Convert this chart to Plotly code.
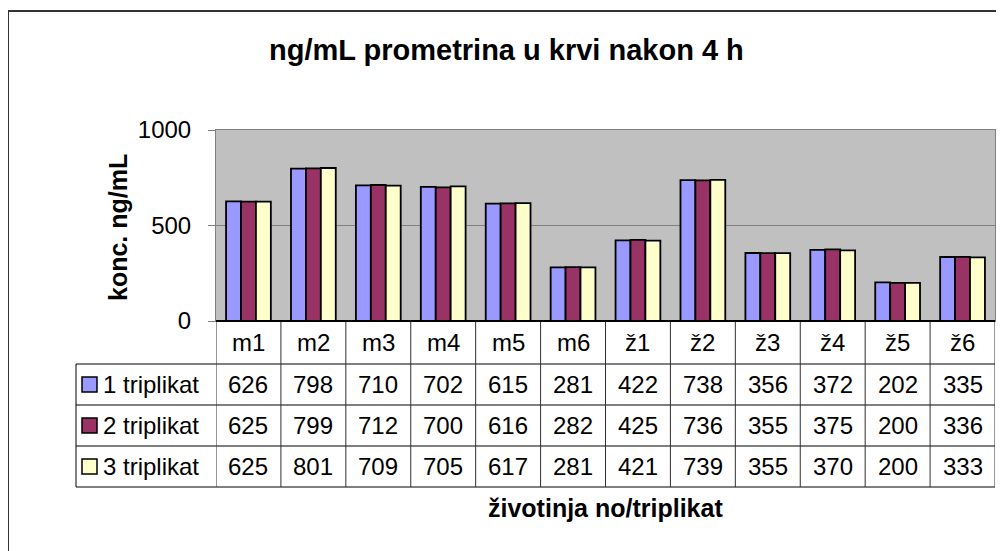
import plotly.graph_objects as go

# ---- data ----
categories = ["m1", "m2", "m3", "m4", "m5", "m6", "ž1", "ž2", "ž3", "ž4", "ž5", "ž6"]
series_names = ["1 triplikat", "2 triplikat", "3 triplikat"]
trip1 = [626, 798, 710, 702, 615, 281, 422, 738, 356, 372, 202, 335]
trip2 = [625, 799, 712, 700, 616, 282, 425, 736, 355, 375, 200, 336]
trip3 = [625, 801, 709, 705, 617, 281, 421, 739, 355, 370, 200, 333]
y_ticks = [0, 500, 1000]

title_text = "ng/mL prometrina u krvi nakon 4 h"
y_title = "konc. ng/mL"
x_title = "životinja no/triplikat"

colors = ["#9999FF", "#993366", "#FFFFCC"]
FONT = "Liberation Sans, Arial, sans-serif"

OFF = 8  # page body margin
W, H = 1004 - OFF, 551 - OFF
L, R, T, B = 216, 995, 130, 321  # plot area in reference pixels
PW, PH = R - L, B - T


def px_x(px):
    return (px - L) / PW


def px_y(py):
    return (B - py) / PH


fig = go.Figure()
for name, vals, col in zip(series_names, [trip1, trip2, trip3], colors):
    fig.add_trace(go.Bar(
        x=categories, y=vals, name=name,
        marker=dict(color=col, line=dict(color="black", width=1.8)),
    ))

shapes = []
annotations = []

# table geometry (reference pixels)
row_edges = [321, 364, 405, 446, 487]
leg_left = 76
n = len(categories)

for yy in row_edges[1:]:
    shapes.append(dict(type="line", xref="paper", yref="paper",
                       x0=px_x(leg_left), x1=1, y0=px_y(yy), y1=px_y(yy),
                       line=dict(color="black", width=1)))
for i in range(n + 1):
    shapes.append(dict(type="line", xref="x", yref="paper",
                       x0=i - 0.5, x1=i - 0.5, y0=px_y(321), y1=px_y(487),
                       line=dict(color="#303030", width=1)))
shapes.append(dict(type="line", xref="paper", yref="paper",
                   x0=px_x(leg_left), x1=px_x(leg_left), y0=px_y(364), y1=px_y(487),
                   line=dict(color="black", width=1)))
shapes.append(dict(type="line", xref="paper", yref="paper",
                   x0=0, x1=1, y0=0, y1=0, line=dict(color="black", width=2)))

for i, c in enumerate(categories):
    annotations.append(dict(x=i, y=px_y(342.5), xref="x", yref="paper", text=c,
                            showarrow=False, font=dict(family=FONT, size=24, color="black"),
                            xanchor="center", yanchor="middle"))
for r, (name, vals, col) in enumerate(zip(series_names, [trip1, trip2, trip3], colors)):
    yc = (row_edges[r + 1] + row_edges[r + 2]) / 2
    shapes.append(dict(type="rect", xref="paper", yref="paper",
                       x0=px_x(82), x1=px_x(97), y0=px_y(yc - 7.5), y1=px_y(yc + 7.5),
                       fillcolor=col, line=dict(color="black", width=1.5)))
    annotations.append(dict(x=px_x(101), y=px_y(yc), xref="paper", yref="paper", text=name,
                            showarrow=False, font=dict(family=FONT, size=24, color="black"),
                            xanchor="left", yanchor="middle"))
    for i, v in enumerate(vals):
        annotations.append(dict(x=i, y=px_y(yc), xref="x", yref="paper", text=str(v),
                                showarrow=False, font=dict(family=FONT, size=24, color="black"),
                                xanchor="center", yanchor="middle"))

annotations.append(dict(x=px_x(506), y=px_y(50), xref="paper", yref="paper", text="<b>" + title_text + "</b>",
                        showarrow=False, font=dict(family=FONT, size=29, color="black"),
                        xanchor="center", yanchor="middle"))
annotations.append(dict(x=px_x(118), y=px_y(228), xref="paper", yref="paper", text="<b>" + y_title + "</b>",
                        showarrow=False, textangle=-90, font=dict(family=FONT, size=25, color="black"),
                        xanchor="center", yanchor="middle"))
annotations.append(dict(x=px_x(605), y=px_y(508), xref="paper", yref="paper", text="<b>" + x_title + "</b>",
                        showarrow=False, font=dict(family=FONT, size=25, color="black"),
                        xanchor="center", yanchor="middle"))

shapes.append(dict(type="rect", xref="paper", yref="paper",
                   x0=px_x(8), x1=px_x(1030), y0=px_y(11), y1=px_y(580),
                   line=dict(color="#333333", width=2), fillcolor="rgba(0,0,0,0)"))

fig.update_layout(
    width=W, height=H,
    margin=dict(l=L - OFF, r=1004 - R, t=T - OFF, b=551 - B, pad=0),
    paper_bgcolor="white", plot_bgcolor="#C0C0C0",
    barmode="group", bargap=0.31, bargroupgap=0,
    showlegend=False,
    font=dict(family=FONT, size=24, color="black"),
    shapes=shapes, annotations=annotations,
    xaxis=dict(type="category", showticklabels=False, ticks="", showgrid=False,
               showline=True, mirror=True, linecolor="#808080", linewidth=1,
               range=[-0.5, n - 0.5], zeroline=False),
    yaxis=dict(range=[0, 1000], tickvals=y_ticks, ticks="outside", ticklen=7,
               tickcolor="#808080", tickwidth=1, showline=True, mirror=True,
               linecolor="#808080", linewidth=1, showgrid=True, gridcolor="#808080",
               gridwidth=1, zeroline=False, ticklabelstandoff=12,
               tickfont=dict(family=FONT, size=24, color="black")),
)

fig.write_html("out.html")
